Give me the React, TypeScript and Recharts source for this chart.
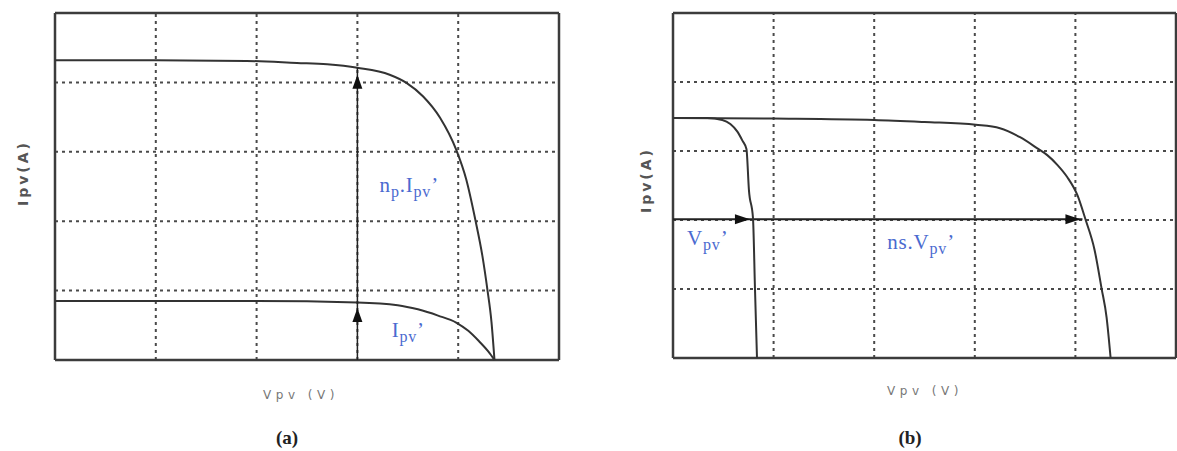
import React from 'react';
import {
  LineChart,
  Line,
  XAxis,
  YAxis,
  ReferenceLine,
  ReferenceDot,
  Scatter,
} from 'recharts';

// grid positions (both panels use a 5 x 5 unit frame)
const gridV = [1, 2, 3, 4];
const gridI = [1, 2, 3, 4];

// (a) parallel association: n_p cells vs a single cell
const parallelV = [0, 1.0, 1.9, 2.4, 2.7, 3.0, 3.32, 3.49, 3.65, 3.82, 3.98, 4.08, 4.17, 4.24, 4.29, 4.33, 4.36];
const parallelI = [4.32, 4.32, 4.31, 4.28, 4.26, 4.21, 4.11, 3.99, 3.8, 3.49, 3.03, 2.6, 2.02, 1.5, 1.01, 0.55, 0];
const cellAV = [0, 1, 2, 3.0, 3.4, 3.6, 3.8, 3.98, 4.1, 4.2, 4.3, 4.36];
const cellAI = [0.85, 0.85, 0.85, 0.83, 0.79, 0.73, 0.64, 0.54, 0.42, 0.28, 0.12, 0];

// (b) series association: a single cell vs n_s cells
const cellBV = [0, 0.34, 0.49, 0.57, 0.64, 0.69, 0.73, 0.755, 0.795, 0.815, 0.835];
const cellBI = [3.48, 3.48, 3.45, 3.39, 3.28, 3.15, 3.03, 2.43, 2.03, 1.0, 0];
const seriesV = [0, 1, 2, 2.5, 3.01, 3.25, 3.45, 3.63, 3.72, 3.82, 3.92, 4.02, 4.1, 4.19, 4.26, 4.31, 4.35];
const seriesI = [3.48, 3.47, 3.45, 3.42, 3.38, 3.33, 3.2, 3.03, 2.94, 2.8, 2.62, 2.36, 2.01, 1.57, 1.01, 0.59, 0];

// arrow markers
const arrowAUp = [
  { v: 3, i: 4.11 },
  { v: 3, i: 0.75 },
];
const arrowBRight = [
  { v: 0.765, i: 2.01 },
  { v: 4.05, i: 2.01 },
];

const zip = (vs: number[], is: number[]) => vs.map((v, k) => ({ v, i: is[k] }));

const FRAME = '#3c3c3c';
const CURVE = '#333';
const GRID = '#4a4a4a';
const BLUE = '#4a6ad0';

const UpHead = (p: any) => (
  <polygon
    points={`${p.cx},${p.cy} ${p.cx - 5},${p.cy + 14} ${p.cx + 5},${p.cy + 14}`}
    fill="#111"
  />
);

const RightHead = (p: any) => (
  <polygon
    points={`${p.cx},${p.cy} ${p.cx - 15},${p.cy - 5} ${p.cx - 15},${p.cy + 5}`}
    fill="#111"
  />
);

const subLabel = (parts: [string, boolean][]) => (p: any) => (
  <text
    x={p.cx}
    y={p.cy}
    fill={BLUE}
    fontFamily="'Liberation Serif', 'DejaVu Serif', serif"
    fontSize={21}
    letterSpacing={0.8}
  >
    {parts.map(([t, sub], k) => {
      const prevSub = k > 0 && parts[k - 1][1];
      const dy = sub && !prevSub ? 5 : !sub && prevSub ? -5 : 0;
      return (
        <tspan key={k} dy={dy} fontSize={sub ? 16 : 21}>
          {t}
        </tspan>
      );
    })}
  </text>
);

function Frame() {
  return (
    <>
      {gridV.map((v) => (
        <ReferenceLine key={'v' + v} x={v} stroke={GRID} strokeWidth={2} strokeDasharray="3 4" />
      ))}
      {gridI.map((i) => (
        <ReferenceLine key={'i' + i} y={i} stroke={GRID} strokeWidth={2} strokeDasharray="3 4" />
      ))}
      <ReferenceLine x={0} stroke={FRAME} strokeWidth={2.5} />
      <ReferenceLine x={5} stroke={FRAME} strokeWidth={2.5} />
      <ReferenceLine y={0} stroke={FRAME} strokeWidth={2.5} />
      <ReferenceLine y={5} stroke={FRAME} strokeWidth={2.5} />
    </>
  );
}

const axisTitle: React.CSSProperties = {
  position: 'absolute',
  fontFamily: "'DejaVu Sans', sans-serif",
  whiteSpace: 'nowrap',
  lineHeight: 1,
};

export default function App() {
  return (
    <div
      style={{
        position: 'absolute',
        left: 0,
        top: 0,
        width: 1177,
        height: 451,
        overflow: 'hidden',
        background: '#fff',
      }}
    >
      {/* (a) */}
      <div style={{ position: 'absolute', left: 0, top: 0 }}>
        <LineChart width={600} height={451} margin={{ top: 13, left: 55, right: 41, bottom: 91 }}>
          <XAxis type="number" dataKey="v" domain={[0, 5]} hide />
          <YAxis type="number" dataKey="i" domain={[0, 5]} hide />
          {Frame()}
          <Line data={zip(parallelV, parallelI)} dataKey="i" type="monotone" stroke={CURVE} strokeWidth={2} dot={false} isAnimationActive={false} />
          <Line data={zip(cellAV, cellAI)} dataKey="i" type="monotone" stroke={CURVE} strokeWidth={2} dot={false} isAnimationActive={false} />
          <ReferenceLine segment={[{ x: 3, y: 0 }, { x: 3, y: 4.21 }]} stroke="#222" strokeWidth={1.5} />
          <Scatter data={arrowAUp} shape={UpHead} isAnimationActive={false} />
          <ReferenceDot x={3.22} y={2.42} shape={subLabel([['n', false], ['p', true], ['.I', false], ['pv', true], ['’', false]])} />
          <ReferenceDot x={3.34} y={0.33} shape={subLabel([['I', false], ['pv', true], ['’', false]])} />
        </LineChart>
      </div>

      {/* (b) */}
      <div style={{ position: 'absolute', left: 590, top: 0 }}>
        <LineChart width={600} height={451} margin={{ top: 13, left: 83, right: 14, bottom: 93 }}>
          <XAxis type="number" dataKey="v" domain={[0, 5]} hide />
          <YAxis type="number" dataKey="i" domain={[0, 5]} hide />
          {Frame()}
          <ReferenceLine segment={[{ x: 0, y: 2.01 }, { x: 4.07, y: 2.01 }]} stroke="#222" strokeWidth={2} />
          <Line data={zip(cellBV, cellBI)} dataKey="i" type="monotone" stroke={CURVE} strokeWidth={2} dot={false} isAnimationActive={false} />
          <Line data={zip(seriesV, seriesI)} dataKey="i" type="monotone" stroke={CURVE} strokeWidth={2} dot={false} isAnimationActive={false} />
          <Scatter data={arrowBRight} shape={RightHead} isAnimationActive={false} />
          <ReferenceDot x={0.14} y={1.64} shape={subLabel([['V', false], ['pv', true], ['’', false]])} />
          <ReferenceDot x={2.13} y={1.58} shape={subLabel([['ns.V', false], ['pv', true], ['’', false]])} />
        </LineChart>
      </div>

      {/* axis titles */}
      <div style={{ ...axisTitle, left: 23, top: 173, fontSize: 14, fontWeight: 'bold', color: '#555', letterSpacing: 3, transform: 'translate(-50%, -50%) rotate(-90deg)' }}>
        Ipv(A)
      </div>
      <div style={{ ...axisTitle, left: 646, top: 180, fontSize: 14, fontWeight: 'bold', color: '#555', letterSpacing: 3, transform: 'translate(-50%, -50%) rotate(-90deg)' }}>
        Ipv(A)
      </div>
      <div style={{ ...axisTitle, left: 301, top: 395, fontSize: 12, color: '#777', letterSpacing: 4.5, transform: 'translate(-50%, -50%)' }}>
        Vpv (V)
      </div>
      <div style={{ ...axisTitle, left: 925, top: 391, fontSize: 12, color: '#777', letterSpacing: 4.5, transform: 'translate(-50%, -50%)' }}>
        Vpv (V)
      </div>

      {/* panel captions */}
      <div style={{ ...axisTitle, left: 287, top: 437, fontFamily: "'Liberation Serif', serif", fontWeight: 'bold', fontSize: 19, color: '#222', transform: 'translate(-50%, -50%)' }}>
        (a)
      </div>
      <div style={{ ...axisTitle, left: 910, top: 437, fontFamily: "'Liberation Serif', serif", fontWeight: 'bold', fontSize: 19, color: '#222', transform: 'translate(-50%, -50%)' }}>
        (b)
      </div>
    </div>
  );
}
